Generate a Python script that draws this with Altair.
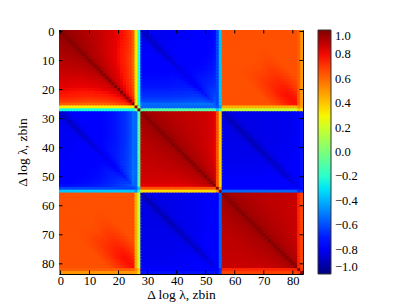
import altair as alt
import pandas as pd

# ---------------- data ----------------
N_BLOCK = 28            # bins per z-block (3 blocks -> 84 bins)
N_BLOCKS = 3
tick_values = [0, 10, 20, 30, 40, 50, 60, 70, 80]
cbar_ticks = [-1.0, -0.8, -0.6, -0.4, -0.2, 0.0, 0.2, 0.4, 0.6, 0.8, 1.0]

# typical correlation level of each block pair
level_diag = [0.93, 0.90, 0.90]          # AA, BB, CC
level_AB = -0.80
level_AC = 0.65
level_BC = -0.82

# per-bin amplitude inside each block (bins 0..25 of the block)
amp_A = [1.0, 1.0, 1.0, 0.995, 0.99, 0.99, 0.985, 0.98, 0.975, 0.97, 0.965, 0.96, 0.955,
         0.95, 0.94, 0.93, 0.92, 0.91, 0.90, 0.89, 0.87, 0.85, 0.83, 0.80, 0.76, 0.68]
amp_B = [1.0, 1.0, 1.0, 1.0, 1.0, 1.0, 1.0, 1.0, 1.0, 1.0, 0.995, 0.995, 0.99,
         0.99, 0.99, 0.985, 0.985, 0.98, 0.98, 0.975, 0.97, 0.965, 0.96, 0.95, 0.94, 0.92]
amp_C = [1.0, 1.0, 1.0, 1.0, 1.0, 1.0, 1.0, 1.0, 1.0, 1.0, 1.0, 1.0, 1.0,
         0.995, 0.995, 0.995, 0.99, 0.99, 0.99, 0.99, 0.985, 0.985, 0.98, 0.98, 0.975, 0.97]

# extra correlation near the diagonal (by lag), within a block
diag_ridge = [1.0, 0.6, 0.45, 0.38, 0.32, 0.27, 0.22, 0.18, 0.14, 0.11, 0.08, 0.06, 0.04, 0.02]
# darker line along the same bin in the anti-correlated blocks
cross_ridge = [0.12, 0.06, 0.03, 0.01]
# darker patch of the A-C block near its diagonal at high bins
ac_ridge = [0.14, 0.13, 0.12, 0.10, 0.08, 0.06, 0.045, 0.03, 0.015]
ac_ramp = [0, 0, 0, 0, 0, 0, 0, 0, 0, 0, 0, 0, 0.05, 0.1, 0.2, 0.3, 0.4, 0.5, 0.6,
           0.7, 0.8, 0.9, 1.0, 1.0, 1.0, 1.0]

# last two bins of each block: value against block A, B, C
edge_values = {
    26: [0.32, -0.55, 0.45],
    27: [-0.25, -0.10, 0.18],
    54: [-0.62, 0.65, -0.75],
    55: [-0.36, 0.36, -0.55],
    82: [0.62, -0.78, 0.74],
    83: [0.50, -0.72, 0.68],
}

# jet colour map stops
jet_stops = [-1.0, -0.78, -0.75, -0.32, -0.30, -0.25, 0.28, 0.30, 0.32, 0.78, 0.82, 1.0]
jet_colors = ["#000080", "#0000ff", "#0000ff", "#00dbff", "#00e5f7", "#14ffe2",
              "#eeff08", "#f7f500", "#ffec00", "#ff1300", "#e80000", "#800000"]

# ---------------- build the matrix ----------------
amps = [amp_A, amp_B, amp_C]
cross_level = {(0, 1): level_AB, (0, 2): level_AC, (1, 2): level_BC}


def pick(lst, k):
    return lst[k] if k < len(lst) else 0.0


def corr(i, j):
    if i == j:
        return 1.0
    bi, bj = i // N_BLOCK, j // N_BLOCK
    ki, kj = i % N_BLOCK, j % N_BLOCK
    ei, ej = i in edge_values, j in edge_values
    if ei and ej:
        return 0.5 * (edge_values[i][bj] + edge_values[j][bi])
    if ei:
        return edge_values[i][bj]
    if ej:
        return edge_values[j][bi]
    d = abs(ki - kj)
    if bi == bj:
        b = level_diag[bi] * amps[bi][ki] * amps[bi][kj]
        return b + (1 - b) * pick(diag_ridge, d)
    pair = (min(bi, bj), max(bi, bj))
    if pair == (0, 2):
        return level_AC + pick(ac_ridge, d) * ac_ramp[max(ki, kj)]
    b = cross_level[pair] * amps[bi][ki] * amps[bj][kj]
    return b * (1 + pick(cross_ridge, d))


n = N_BLOCK * N_BLOCKS
rows = [(i, j, corr(i, j)) for i in range(n) for j in range(n)]
df = pd.DataFrame(rows, columns=["row", "col", "r"])
ticks_df = pd.DataFrame({"t": tick_values})

# ---------------- chart ----------------
FONT = "Liberation Serif"
TITLE = "Δ log λ,  zbin"
W = H = 244
xscale = alt.Scale(domain=[-0.5, n - 0.5], nice=False, zero=False)
yscale = alt.Scale(domain=[-0.5, n - 0.5], nice=False, zero=False, reverse=True)

axis_common = dict(values=tick_values, ticks=False, domain=False, grid=False,
                   labelFont=FONT, labelFontSize=12.5, labelColor="black",
                   labelFlush=False, titleFont=FONT, titleFontSize=13.5,
                   titleFontWeight="normal", titleColor="black")
x_axis = alt.Axis(labelPadding=0, titlePadding=1, **axis_common)
y_axis = alt.Axis(labelPadding=5, titlePadding=12, **axis_common)

heat = alt.Chart(df).transform_calculate(
    x1="datum.col - 0.5", x2="datum.col + 1.0",
    y1="datum.row - 0.5", y2="datum.row + 1.0",
).mark_rect(clip=True, strokeWidth=0).encode(
    x=alt.X("x1:Q", scale=xscale, title=TITLE, axis=x_axis),
    x2="x2:Q",
    y=alt.Y("y1:Q", scale=yscale, title=TITLE, axis=y_axis),
    y2="y2:Q",
    color=alt.Color("r:Q",
                    scale=alt.Scale(domain=jet_stops, range=jet_colors,
                                    interpolate="rgb", clamp=True),
                    legend=alt.Legend(title=None, values=cbar_ticks, format=".1f",
                                      gradientLength=H, gradientThickness=13,
                                      gradientStrokeColor="#333333", gradientStrokeWidth=1,
                                      labelFont=FONT, labelFontSize=12.5, labelColor="black",
                                      labelOffset=4, labelBaseline="middle",
                                      labelOverlap=False, offset=15, padding=0,
                                      orient="right", direction="vertical")),
)

TL = 3.5
rule = alt.Chart(ticks_df).mark_rule(color="black", strokeWidth=1)
tick_bottom = rule.encode(x=alt.X("t:Q", scale=xscale, title=TITLE, axis=x_axis),
                          y=alt.value(H), y2=alt.value(H - TL))
tick_top = rule.encode(x=alt.X("t:Q", scale=xscale, title=TITLE, axis=x_axis),
                       y=alt.value(0), y2=alt.value(TL))
tick_left = rule.encode(y=alt.Y("t:Q", scale=yscale, title=TITLE, axis=y_axis),
                        x=alt.value(0), x2=alt.value(TL))
tick_right = rule.encode(y=alt.Y("t:Q", scale=yscale, title=TITLE, axis=y_axis),
                         x=alt.value(W), x2=alt.value(W - TL))

chart = alt.layer(heat, tick_bottom, tick_top, tick_left, tick_right).properties(
    width=W, height=H,
    autosize=alt.AutoSizeParams(type="none"),
    padding={"left": 51, "top": 22, "right": 95, "bottom": 30},
    background="white",
).configure_view(stroke="black", strokeWidth=1)

chart.save("out.html", embed_options={"renderer": "svg", "actions": False})
